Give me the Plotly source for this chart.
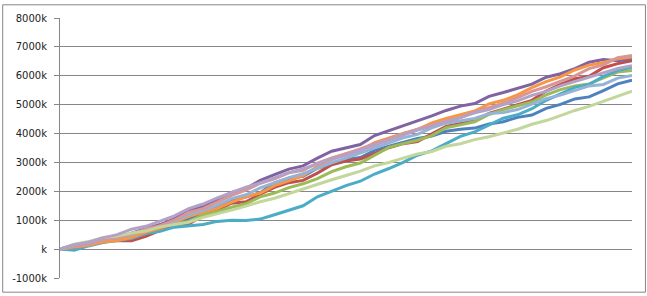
import plotly.graph_objects as go

steps = list(range(41))

blue = [0,150,170,350,480,470,610,820,950,1030,1250,1480,1700,1800,1950,2290,2450,2520,2800,2950,3100,3170,3420,3560,3700,3830,3910,4080,4150,4190,4330,4410,4560,4640,4870,5010,5200,5270,5490,5720,5850]
red = [0,40,170,260,300,290,440,650,800,870,1160,1360,1590,1640,1900,2140,2300,2380,2630,2920,3050,3120,3310,3510,3650,3720,3990,4250,4350,4440,4700,4860,5000,5150,5470,5700,5900,5980,6280,6420,6520]
green = [0,90,200,230,350,430,560,790,850,960,1180,1300,1450,1570,1810,1940,2130,2260,2440,2680,2850,2980,3240,3520,3650,3770,3930,4200,4300,4410,4660,4830,4960,5090,5340,5520,5650,5720,5930,6130,6180]
purple = [0,120,170,310,400,560,710,850,1050,1340,1480,1710,1960,2090,2380,2580,2770,2880,3150,3390,3500,3620,3930,4100,4250,4420,4610,4800,4950,5040,5290,5420,5570,5710,5950,6070,6250,6470,6560,6520,6590]
teal = [0,-40,110,230,300,370,540,620,760,800,850,960,1000,990,1040,1190,1350,1500,1810,2000,2200,2350,2600,2790,3000,3250,3400,3650,3900,4060,4300,4530,4650,4860,5150,5380,5600,5700,5980,6180,6300]
orange = [0,70,130,250,300,400,590,720,900,1140,1270,1410,1630,1810,1940,2200,2360,2540,2870,3100,3300,3400,3690,3850,4000,4140,4370,4520,4650,4780,5030,5150,5340,5590,5800,5960,6200,6370,6460,6590,6650]
light_blue = [0,110,190,340,400,490,680,790,950,1200,1330,1520,1750,1880,2120,2290,2470,2610,2800,2990,3150,3330,3510,3690,3850,3970,4200,4360,4450,4520,4690,4730,4830,5010,5210,5330,5500,5650,5700,5920,6010]
pink = [0,100,150,320,400,510,690,810,1000,1270,1400,1620,1860,2040,2280,2430,2640,2730,2980,3160,3300,3470,3660,3800,4000,4150,4300,4420,4550,4740,4900,5050,5240,5460,5620,5820,6000,6250,6380,6630,6700]
light_green = [0,170,260,400,450,560,630,770,850,930,1100,1220,1350,1490,1640,1760,1920,2100,2250,2400,2550,2700,2880,3000,3150,3290,3380,3560,3650,3790,3890,4020,4150,4320,4450,4620,4800,4940,5120,5300,5470]
light_purple = [0,150,240,390,500,690,790,980,1150,1400,1560,1770,1950,2140,2290,2480,2650,2780,2960,3120,3250,3430,3600,3790,3950,4120,4250,4430,4550,4720,4830,5000,5130,5320,5460,5650,5800,5960,6090,6250,6350]

series = [
    ("Series1", blue, "#4F81BD"),
    ("Series2", red, "#C0504D"),
    ("Series3", green, "#9BBB59"),
    ("Series4", purple, "#8064A2"),
    ("Series5", teal, "#4BACC6"),
    ("Series6", orange, "#F79646"),
    ("Series7", light_blue, "#95B3D7"),
    ("Series8", pink, "#D99694"),
    ("Series9", light_green, "#C3D69B"),
    ("Series10", light_purple, "#B3A2C7"),
]

tick_vals = [-1000, 0, 1000, 2000, 3000, 4000, 5000, 6000, 7000, 8000]
tick_text = ["-1000k", "k", "1000k", "2000k", "3000k", "4000k", "5000k", "6000k", "7000k", "8000k"]

fig = go.Figure()
for name, vals, col in series:
    fig.add_trace(go.Scatter(x=steps, y=vals, mode="lines", name=name,
                             line=dict(color=col, width=3), hoverinfo="skip"))

W, H = 647, 296
L, R, T, B = 58, 15, 14, 16
pw, ph = W - L - R, H - T - B

fig.update_layout(
    width=W, height=H,
    margin=dict(l=L, r=R, t=T, b=B),
    paper_bgcolor="white", plot_bgcolor="white",
    showlegend=False,
    font=dict(family="DejaVu Sans", size=10, color="#222222"),
    xaxis=dict(range=[0, 40], showgrid=False, zeroline=False, showticklabels=False,
               showline=False, ticks=""),
    yaxis=dict(range=[-1000, 8000], tickvals=tick_vals, ticktext=tick_text,
               showgrid=True, gridcolor="#868686", gridwidth=1, zeroline=False,
               showline=True, linecolor="#868686", linewidth=1,
               ticks="outside", ticklen=5, tickcolor="#868686",
               ticklabelstandoff=5),
    shapes=[dict(type="rect", xref="paper", yref="paper",
                 x0=(0.5 - L) / pw, x1=(W - 1.5 - L) / pw,
                 y0=(H - B - (H - 1.5)) / ph, y1=(H - B - 0.5) / ph,
                 line=dict(color="#868686", width=1), layer="below")],
)

fig.write_html("out.html")
